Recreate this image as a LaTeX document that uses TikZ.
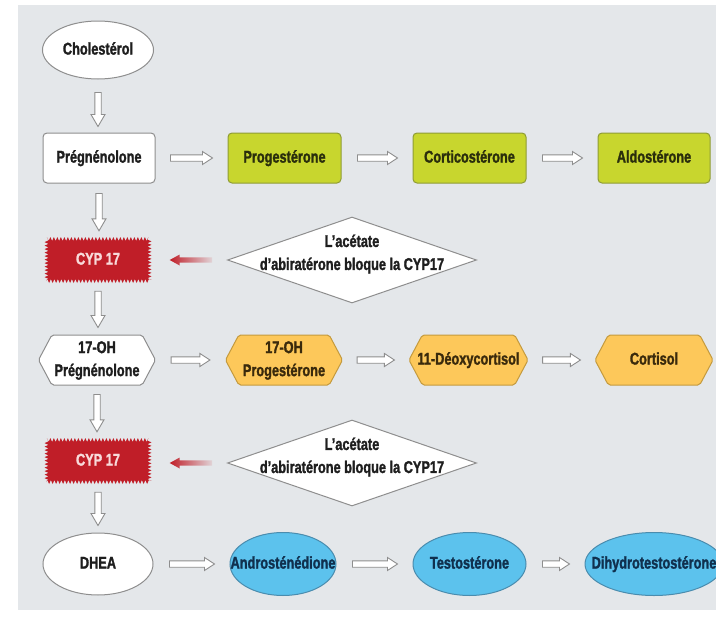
\documentclass[tikz,border=0pt]{standalone}
\usepackage{fontspec}
\setmainfont{Liberation Sans}[FakeStretch=0.75, BoldFeatures={FakeBold=1.5}]
\usetikzlibrary{shapes.geometric,shapes.symbols,decorations.pathmorphing,calc}

\definecolor{panel}{HTML}{E4E7EA}
\definecolor{edgegrey}{HTML}{8E8E8E}
\definecolor{greenfill}{HTML}{C8D62E}
\definecolor{greenedge}{HTML}{8F9C35}
\definecolor{orangefill}{HTML}{FDC85A}
\definecolor{orangeedge}{HTML}{C49A3E}
\definecolor{bluefill}{HTML}{5CC2ED}
\definecolor{blueedge}{HTML}{4A8CAE}
\definecolor{cypred}{HTML}{C01E28}
\definecolor{cyptext}{HTML}{F8DADA}
\definecolor{inkdark}{HTML}{1E1E1E}
\definecolor{inkgreen}{HTML}{2A2E0C}
\definecolor{inkorange}{HTML}{3A2A0C}
\definecolor{inkblue}{HTML}{10304E}

% node text set in a zero-width box so that it never enlarges the shape
\newcommand\nodetext[1]{\makebox[0pt]{\begin{tabular}{@{}c@{}}#1\end{tabular}}}

\begin{document}
\begin{tikzpicture}[x=1pt,y=-1pt,
  every node/.style={font=\fontsize{17}{23}\selectfont\bfseries, inner sep=0pt},
  rbox/.style={rectangle, rounded corners=4pt, minimum width=112pt, minimum height=50pt, line width=1pt},
  whitebox/.style={rbox, draw=edgegrey, fill=white, text=inkdark},
  greenbox/.style={rbox, draw=greenedge, fill=greenfill, text=inkgreen},
  oval/.style={ellipse, line width=1pt, minimum height=60pt},
  whiteoval/.style={oval, draw=edgegrey, fill=white, text=inkdark},
  blueoval/.style={oval, draw=blueedge, fill=bluefill, text=inkblue},
  hexa/.style={signal, signal to=west and east, signal pointer angle=124, rounded corners=2pt,
    minimum width=117pt, minimum height=50pt, line width=1pt},
  whitehex/.style={hexa, draw=edgegrey, fill=white, text=inkdark},
  orangehex/.style={hexa, draw=orangeedge, fill=orangefill, text=inkorange},
  cypbox/.style={rectangle, fill=cypred, text=cyptext, minimum width=103pt, minimum height=42pt,
    decorate, decoration={zigzag, segment length=3.5pt, amplitude=2pt}},
  blocker/.style={diamond, draw=edgegrey, fill=white, line width=1pt, minimum width=249pt, minimum height=86pt},
  note/.style={align=center, text=inkdark},
  hollow/.style={draw=edgegrey, fill=white, line width=0.9pt, line join=miter},
  downarrow/.style={to path={let \p1=(\tikztostart), \p2=(\tikztotarget) in
    (\x1-3.2pt,\y1) -- (\x1+3.2pt,\y1) -- (\x1+3.2pt,\y2+12pt) -- (\x1+7pt,\y2+12pt)
    -- (\x1,\y2) -- (\x1-7pt,\y2+12pt) -- (\x1-3.2pt,\y2+12pt) -- cycle}},
  rightarrow/.style={to path={let \p1=(\tikztostart), \p2=(\tikztotarget) in
    (\x1,\y1+3.2pt) -- (\x2-10pt,\y1+3.2pt) -- (\x2-10pt,\y1+6.5pt) -- (\x2,\y1)
    -- (\x2-10pt,\y1-6.5pt) -- (\x2-10pt,\y1-3.2pt) -- (\x1,\y1-3.2pt) -- cycle}},
  leftarrow/.style={to path={let \p1=(\tikztostart), \p2=(\tikztotarget) in
    (\x1,\y1+2.6pt) -- (\x2+10pt,\y1+2.6pt) -- (\x2+10pt,\y1+5.5pt) -- (\x2,\y1)
    -- (\x2+10pt,\y1-5.5pt) -- (\x2+10pt,\y1-2.6pt) -- (\x1,\y1-2.6pt) -- cycle}},
]
\useasboundingbox (0,0) rectangle (716,619);
\clip (0,0) rectangle (716,619);
\fill[white] (0,0) rectangle (716,619);
\fill[panel] (18,5) rectangle (716,610);

% main column
\node[whiteoval, minimum width=111pt, minimum height=58pt] (chol) at (98,50) {\nodetext{Cholestérol}};
\node[whitebox] (preg) at (99,158) {\nodetext{Prégnénolone}};
\node[cypbox] (cypa) at (98,260) {\nodetext{CYP 17}};
\node[whitehex] (ohpreg) at (97,360) {\nodetext{17-OH\\Prégnénolone}};
\node[cypbox] (cypb) at (98,461) {\nodetext{CYP 17}};
\node[whiteoval, minimum width=110pt, minimum height=62pt] (dhea) at (98,564) {\nodetext{DHEA}};

% mineralocorticoid branch
\node[greenbox, minimum width=113pt] (prog) at (284.5,158) {\nodetext{Progestérone}};
\node[greenbox, minimum width=113pt] (cortico) at (469.5,158) {\nodetext{Corticostérone}};
\node[greenbox] (aldo) at (654,158) {\nodetext{Aldostérone}};

% glucocorticoid branch
\node[orangehex] (ohprog) at (284,360) {\nodetext{17-OH\\Progestérone}};
\node[orangehex, minimum width=119pt] (deoxy) at (468.5,360) {\nodetext{11-Déoxycortisol}};
\node[orangehex, minimum width=118pt] (cortisol) at (654,360) {\nodetext{Cortisol}};

% androgen branch
\node[blueoval, minimum width=106pt, minimum height=63pt] (andro) at (283,564) {\nodetext{Androsténédione}};
\node[blueoval, minimum width=113pt, minimum height=63pt] (testo) at (469.5,564) {\nodetext{Testostérone}};
\node[blueoval, minimum width=138pt, minimum height=63pt] (dht) at (654,564) {\nodetext{Dihydrotestostérone}};

% inhibitor notes
\node[blocker] (blka) at (352,260) {};
\node[note] (blkatext) at ([yshift=6pt]blka.center) {L’acétate\\d’abiratérone bloque la CYP17};
\node[blocker] (blkb) at (352,463) {};
\node[note] (blkbtext) at ([yshift=6pt]blkb.center) {L’acétate\\d’abiratérone bloque la CYP17};

% vertical steps
\draw[hollow, downarrow] ([yshift=-13pt]chol.south) to ([yshift=6pt]preg.north);
\draw[hollow, downarrow] ([yshift=-10pt]preg.south) to ([yshift=8pt]cypa.north);
\draw[hollow, downarrow] ([yshift=-10pt]cypa.south) to ([yshift=7pt]ohpreg.north);
\draw[hollow, downarrow] ([yshift=-9pt]ohpreg.south) to ([yshift=8pt]cypb.north);
\draw[hollow, downarrow] ([yshift=-10pt]cypb.south) to ([yshift=7pt]dhea.north);

% horizontal steps
\draw[hollow, rightarrow] ([xshift=15pt]preg.east) to ([xshift=-15pt]prog.west);
\draw[hollow, rightarrow] ([xshift=16pt]prog.east) to ([xshift=-15pt]cortico.west);
\draw[hollow, rightarrow] ([xshift=16pt]cortico.east) to ([xshift=-15pt]aldo.west);
\draw[hollow, rightarrow] ([xshift=15pt]ohpreg.east) to ([xshift=-15pt]ohprog.west);
\draw[hollow, rightarrow] ([xshift=14pt]ohprog.east) to ([xshift=-14pt]deoxy.west);
\draw[hollow, rightarrow] ([xshift=14pt]deoxy.east) to ([xshift=-14pt]cortisol.west);
\draw[hollow, rightarrow] ([xshift=16pt]dhea.east) to ([xshift=-15pt]andro.west);
\draw[hollow, rightarrow] ([xshift=16pt]andro.east) to ([xshift=-15pt]testo.west);
\draw[hollow, rightarrow] ([xshift=16pt]testo.east) to ([xshift=-15pt]dht.west);

% inhibition arrows
\shade[left color=cypred, right color=cypred!10!panel, leftarrow] ([xshift=-15pt]blka.west) to ([xshift=20pt]cypa.east);
\shade[left color=cypred, right color=cypred!10!panel, leftarrow] ([xshift=-15pt]blkb.west) to ([xshift=20pt]cypb.east);
\end{tikzpicture}
\end{document}
